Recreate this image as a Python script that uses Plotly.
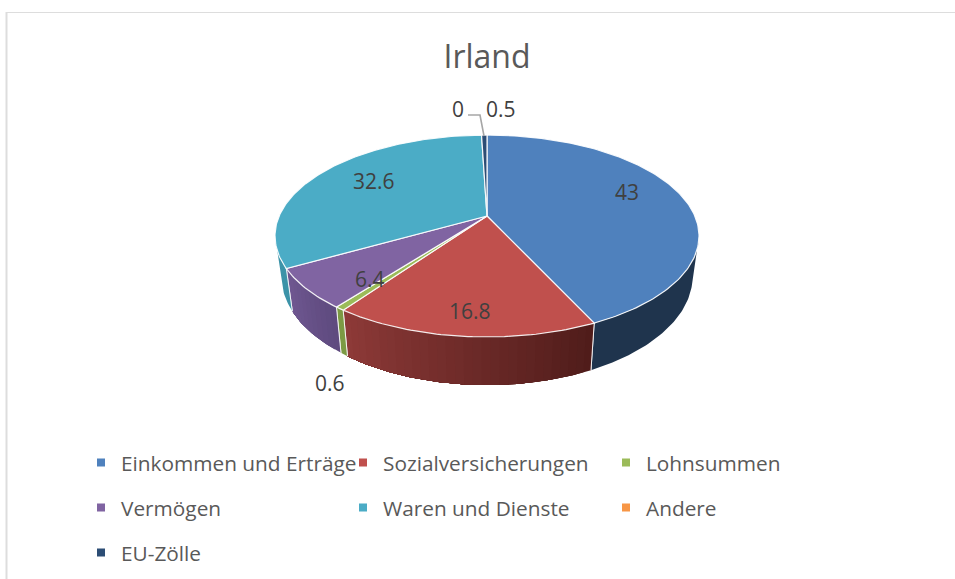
import math
import plotly.graph_objects as go

# --- data ---
title = "Irland"
categories = ["Einkommen und Erträge", "Sozialversicherungen", "Lohnsummen",
              "Vermögen", "Waren und Dienste", "Andere", "EU-Zölle"]
values = [43, 16.8, 0.6, 6.4, 32.6, 0, 0.5]
value_labels = ["43", "16.8", "0.6", "6.4", "32.6", "0", "0.5"]

# --- styles ---
top_colors = ["#4F81BD", "#C0504D", "#9BBB59", "#8064A2", "#4BACC6", "#F79646", "#2C4D75"]
wall_left = ["#1F344D", "#8E3A38", "#7C9A44", "#705892", "#3C93A8", "#C6783A", "#1F344D"]
wall_right = ["#1F344D", "#4F1C1A", "#7C9A44", "#5E4A7E", "#3C93A8", "#C6783A", "#1F344D"]

# --- layout of the projected pie (px) ---
W, H = 955, 579
CX, CY = 487, 216      # apex
R, B = 207.8, 97.0     # radii before perspective
K = 0.198              # perspective strength
DEPTH = 38.6           # wall height
LEAN = 0.97            # lower rim draws in towards the centre line
label_xy = [(627, 192), (470, 311), (330, 383), (370, 279), (374, 181), (458, 109), (501, 109)]
legend_xy = [(81, 463), (343, 463), (606, 463), (81, 508), (343, 508), (606, 508), (81, 553)]


def rim(theta, lift=0.0):
    w = 1 + K * math.cos(theta)
    scale = LEAN if lift else 1.0
    return (CX + scale * R * math.sin(theta) / w,
            CY - B * math.cos(theta) / w + lift / w)


def hex2rgb(h):
    return [int(h[i:i + 2], 16) for i in (1, 3, 5)]


def mix(a, b, t):
    ca, cb = hex2rgb(a), hex2rgb(b)
    return "rgb(%d,%d,%d)" % tuple(round(x + (y - x) * t) for x, y in zip(ca, cb))


total = sum(values)
edges = [0.0]
for v in values:
    edges.append(edges[-1] + v / total * 2 * math.pi)

fig = go.Figure()

# walls: only the near side of the rim is visible
vis_a = math.acos(-K)
vis_b = 2 * math.pi - vis_a
for i, v in enumerate(values):
    a, b = max(edges[i], vis_a), min(edges[i + 1], vis_b)
    if v <= 0 or b <= a:
        continue
    steps = 1 if wall_left[i] == wall_right[i] else max(1, int((b - a) / math.radians(2.0)))
    for s in range(steps):
        t0 = a + (b - a) * s / steps
        # each strip runs on to the end of the slice; the next one paints over it
        t1 = b
        n = max(2, int((t1 - t0) / math.radians(1.0)))
        th = [t0 + (t1 - t0) * j / n for j in range(n + 1)]
        upper = [rim(t) for t in th]
        lower = [rim(t, DEPTH) for t in reversed(th)]
        pts = upper + lower + [upper[0]]
        # colour runs from the right-hand end to the left-hand end of the slice
        col = mix(wall_right[i], wall_left[i], (s + 0.5) / steps)
        fig.add_trace(go.Scatter(x=[p[0] for p in pts], y=[p[1] for p in pts],
                                 mode="lines", fill="toself", fillcolor=col,
                                 line=dict(width=0),
                                 hoverinfo="skip", showlegend=False))
    # white seams on the walls at the slice edges
    for t in (edges[i], edges[i + 1]):
        if vis_a < t < vis_b:
            p, q = rim(t), rim(t, DEPTH)
            fig.add_trace(go.Scatter(x=[p[0], q[0]], y=[p[1], q[1]], mode="lines",
                                     line=dict(color="rgba(255,255,255,0.85)", width=1),
                                     hoverinfo="skip", showlegend=False))

# tops
for i, v in enumerate(values):
    if v <= 0:
        continue
    n = max(2, int((edges[i + 1] - edges[i]) / math.radians(1.0)))
    pts = [(CX, CY)] + [rim(edges[i] + (edges[i + 1] - edges[i]) * j / n) for j in range(n + 1)] + [(CX, CY)]
    fig.add_trace(go.Scatter(x=[p[0] for p in pts], y=[p[1] for p in pts],
                             mode="lines", fill="toself", fillcolor=top_colors[i],
                             line=dict(color="rgba(255,255,255,0.9)", width=1.2),
                             name=categories[i], text=f"{categories[i]}: {value_labels[i]}",
                             hoverinfo="text", showlegend=False))

# legend: one small legend per entry, so the three-column grid can be matched
legends = {}
for i, name in enumerate(categories):
    key = "legend" if i == 0 else f"legend{i + 1}"
    fig.add_trace(go.Scatter(x=[None], y=[None], mode="markers", name=name, legend=key,
                             marker=dict(symbol="square", size=8, color=top_colors[i]),
                             showlegend=True))
    legends[key] = dict(x=legend_xy[i][0] / W, y=1 - legend_xy[i][1] / H,
                        xanchor="left", yanchor="middle",
                        bgcolor="rgba(0,0,0,0)", borderwidth=0, itemclick=False,
                        font=dict(family="Open Sans", size=20.8, color="#595959"))

# value labels
annotations = [dict(x=x, y=y, xref="x", yref="y", text=t, showarrow=False,
                    font=dict(family="Open Sans", size=21, color="#404040"))
               for (x, y), t in zip(label_xy, value_labels)]

shapes = [
    dict(type="line", xref="x", yref="y", x0=6.5, x1=6.5, y0=12, y1=H,
         line=dict(color="#DDDDDD", width=2)),
    dict(type="line", xref="x", yref="y", x0=6, x1=W, y0=12.5, y1=12.5,
         line=dict(color="#DDDDDD", width=1)),
    dict(type="path", xref="x", yref="y", path="M 468 115 L 480 115 L 484 136",
         line=dict(color="#A6A6A6", width=1.6)),
]

fig.update_layout(
    width=W, height=H, margin=dict(l=0, r=0, t=0, b=0),
    paper_bgcolor="white", plot_bgcolor="white",
    title=dict(text=title, x=487 / W, xanchor="center", y=1 - 57 / H, yanchor="middle",
               font=dict(family="Open Sans", size=32, color="#595959")),
    xaxis=dict(range=[0, W], visible=False, fixedrange=True),
    yaxis=dict(range=[H, 0], visible=False, fixedrange=True),
    annotations=annotations, shapes=shapes,
    **legends,
)
fig.write_html("out.html", config=dict(displayModeBar=False),
               post_script="document.body.style.margin='0';document.body.style.overflow='hidden';")
